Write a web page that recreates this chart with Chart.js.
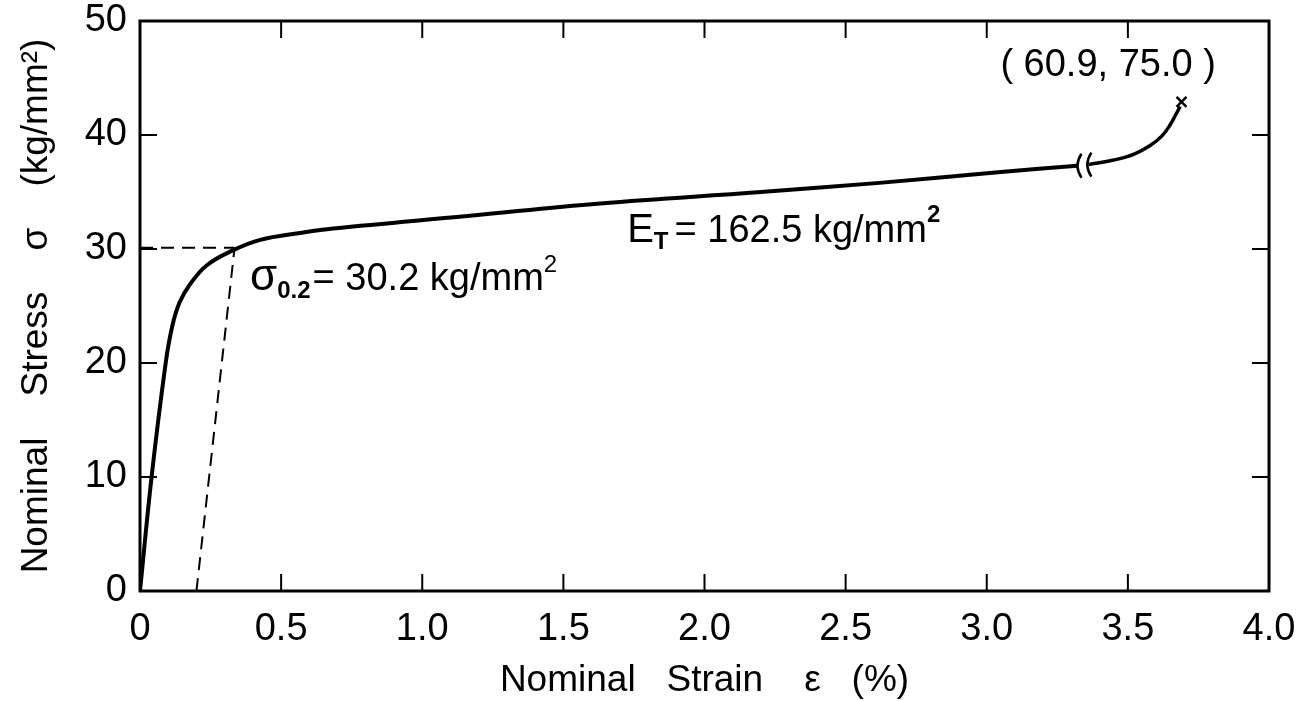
<!DOCTYPE html>
<html>
<head>
<meta charset="utf-8">
<script src="https://cdn.jsdelivr.net/npm/chart.js@4.4.0/dist/chart.umd.min.js"></script>
<style>
  html, body { margin: 0; padding: 0; background: #fff; }
</style>
</head>
<body>
<canvas id="stressChart" width="1302" height="701"></canvas>
<script>
// Stress-strain curve (schematic, axis broken near 3.3 %)
const strainLoad = [0, 0.041, 0.091, 0.114, 0.14, 0.177, 0.238, 0.331, 0.426, 0.567, 0.684, 1.16, 1.63, 2.2, 2.62, 3.05, 3.32];
const stressLoad = [0, 10, 20, 23.2, 25.3, 26.9, 28.6, 29.9, 30.8, 31.4, 31.8, 32.9, 34.0, 35.0, 35.8, 36.75, 37.3];
const strainTail = [3.36, 3.45, 3.52, 3.58, 3.62, 3.65, 3.67, 3.685];
const stressTail = [37.4, 37.8, 38.3, 39.1, 39.9, 40.9, 41.8, 42.5];
const fracture = [3.69, 42.9];

// 0.2 % offset construction
const offsetStrain = [0.2, 0.335];
const offsetStress = [0, 30.1];
const yieldLevelStrain = [0, 0.335];
const yieldLevelStress = [30.1, 30.1];

const breakStrains = [3.325, 3.36];
const xTicks = [0, 0.5, 1.0, 1.5, 2.0, 2.5, 3.0, 3.5, 4.0];
const yTicks = [0, 10, 20, 30, 40, 50];

const FONT = "'Liberation Sans', Arial, sans-serif";

function pts(xs, ys) {
    return xs.map(function (x, i) { return { x: x, y: ys[i] }; });
}

// draw text made of pieces with different size / vertical shift
function drawRich(ctx, x, y, parts) {
    let cx = x;
    parts.forEach(function (p) {
        ctx.font = (p.bold ? 'bold ' : '') + p.size + 'px ' + FONT;
        ctx.fillText(p.t, cx, y + (p.dy || 0));
        cx += ctx.measureText(p.t).width + (p.gap || 0);
    });
}

const framePlugin = {
    id: 'frame',
    afterDatasetsDraw(chart) {
        const ctx = chart.ctx;
        const a = chart.chartArea;
        const xs = chart.scales.x, ys = chart.scales.y;
        ctx.save();
        ctx.strokeStyle = '#000';
        ctx.lineWidth = 3;
        ctx.strokeRect(a.left, a.top, a.right - a.left, a.bottom - a.top);

        // inward ticks on all four sides
        ctx.lineWidth = 2;
        const len = 17;
        ctx.beginPath();
        xTicks.slice(1, -1).forEach(function (v) {
            const px = xs.getPixelForValue(v);
            ctx.moveTo(px, a.bottom); ctx.lineTo(px, a.bottom - len);
            ctx.moveTo(px, a.top); ctx.lineTo(px, a.top + len);
        });
        yTicks.slice(1, -1).forEach(function (v) {
            const py = ys.getPixelForValue(v);
            ctx.moveTo(a.left, py); ctx.lineTo(a.left + len, py);
            ctx.moveTo(a.right, py); ctx.lineTo(a.right - len, py);
        });
        ctx.stroke();

        // axis break marks on the curve
        ctx.lineWidth = 2.5;
        breakStrains.forEach(function (s, i) {
            const px = xs.getPixelForValue(s);
            const yc = ys.getPixelForValue(i === 0 ? stressLoad[stressLoad.length - 1] : stressTail[0]);
            ctx.beginPath();
            ctx.moveTo(px + 3, yc - 12);
            ctx.quadraticCurveTo(px - 5, yc, px + 3, yc + 12);
            ctx.stroke();
        });

        // annotations
        ctx.fillStyle = '#000';
        ctx.textBaseline = 'alphabetic';
        ctx.textAlign = 'center';
        ctx.font = '38px ' + FONT;
        ctx.fillText('( 60.9, 75.0 )', xs.getPixelForValue(3.43), ys.getPixelForValue(45.2));

        ctx.textAlign = 'left';
        drawRich(ctx, xs.getPixelForValue(0.39), ys.getPixelForValue(26.4), [
            { t: 'σ', size: 44 },
            { t: '0.2', size: 24, dy: 8, bold: true, gap: 2 },
            { t: '= 30.2 kg/mm', size: 38 },
            { t: '2', size: 24, dy: -18 }
        ]);
        drawRich(ctx, xs.getPixelForValue(1.726), ys.getPixelForValue(30.6), [
            { t: 'E', size: 40 },
            { t: 'T', size: 24, dy: 7, bold: true, gap: 6 },
            { t: '= 162.5 kg/mm', size: 38 },
            { t: '2', size: 24, dy: -20, bold: true }
        ]);
        ctx.restore();
    }
};

const ctx = document.getElementById('stressChart').getContext('2d');

const stressChart = new Chart(ctx, {
    type: 'scatter',
    data: {
        datasets: [{
            label: 'Loading',
            data: pts(strainLoad, stressLoad),
            showLine: true,
            borderColor: '#000',
            borderWidth: 4,
            pointRadius: 0,
            tension: 0.4
        }, {
            label: 'Near fracture',
            data: pts(strainTail, stressTail),
            showLine: true,
            borderColor: '#000',
            borderWidth: 3.5,
            pointRadius: 0,
            tension: 0.4
        }, {
            label: 'Offset line',
            data: pts(offsetStrain, offsetStress),
            showLine: true,
            borderColor: '#000',
            borderWidth: 2,
            borderDash: [13, 8],
            pointRadius: 0
        }, {
            label: 'Yield level',
            data: pts(yieldLevelStrain, yieldLevelStress),
            showLine: true,
            borderColor: '#000',
            borderWidth: 2,
            borderDash: [13, 8],
            pointRadius: 0
        }, {
            label: 'Fracture',
            data: [{ x: fracture[0], y: fracture[1] }],
            pointStyle: 'crossRot',
            pointRadius: 7,
            borderColor: '#000',
            borderWidth: 2.5
        }]
    },
    options: {
        responsive: false,
        animation: false,
        devicePixelRatio: 1,
        layout: { padding: { top: 21, right: 33, left: 0, bottom: 0 } },
        plugins: {
            legend: { display: false },
            tooltip: { enabled: false }
        },
        scales: {
            x: {
                type: 'linear',
                min: 0,
                max: 4,
                afterBuildTicks: function (scale) {
                    scale.ticks = xTicks.map(function (v) { return { value: v }; });
                },
                afterFit: function (scale) {
                    scale.height = 110;
                    scale.paddingLeft = 0;
                    scale.paddingRight = 0;
                },
                grid: { display: false, drawTicks: false },
                border: { display: false },
                ticks: {
                    color: '#000',
                    padding: 16,
                    maxRotation: 0,
                    font: { family: FONT, size: 38 },
                    callback: function (v) { return v === 0 ? '0' : v.toFixed(1); }
                },
                title: {
                    display: true,
                    text: 'Nominal   Strain    ε   (%)',
                    color: '#000',
                    padding: { top: 0, bottom: 2 },
                    font: { family: FONT, size: 37, lineHeight: 1 }
                }
            },
            y: {
                type: 'linear',
                min: 0,
                max: 50,
                afterBuildTicks: function (scale) {
                    scale.ticks = yTicks.map(function (v) { return { value: v }; });
                },
                afterFit: function (scale) {
                    scale.width = 140;
                    scale.paddingTop = 0;
                    scale.paddingBottom = 0;
                },
                grid: { display: false, drawTicks: false },
                border: { display: false },
                ticks: {
                    color: '#000',
                    padding: 13,
                    font: { family: FONT, size: 38 }
                },
                title: {
                    display: true,
                    text: 'Nominal    Stress    σ    (kg/mm²)',
                    color: '#000',
                    padding: { top: 18, bottom: 0 },
                    font: { family: FONT, size: 37, lineHeight: 1 }
                }
            }
        }
    },
    plugins: [framePlugin]
});
</script>
</body>
</html>
